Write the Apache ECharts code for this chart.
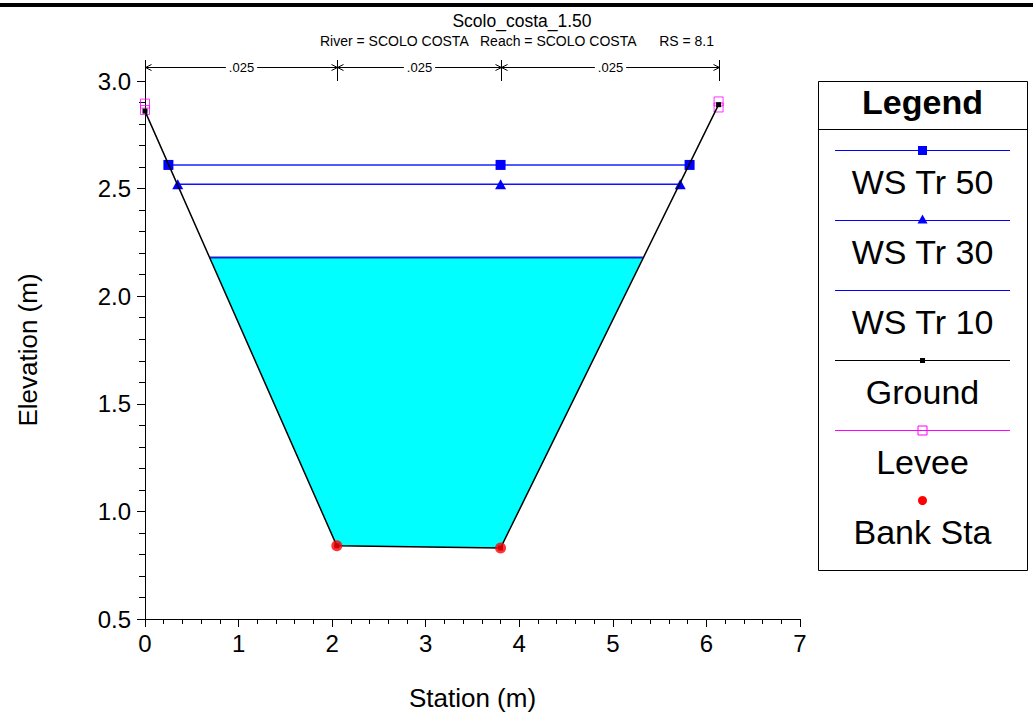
<!DOCTYPE html>
<html><head><meta charset="utf-8">
<script src="https://cdn.jsdelivr.net/npm/echarts@6/dist/echarts.min.js"></script>
<style>html,body{margin:0;padding:0;background:#fff}#c{width:1033px;height:717px}</style>
</head><body><div id="c"></div>
<script>
// ---- data ----
const groundSta = [0, 2.05, 3.80, 6.13];
const groundElev = [2.86, 0.84, 0.83, 2.89];
const bankSta = [2.05, 3.80];
const bankElev = [0.84, 0.83];
const leveeSta = [0, 0, 6.13, 6.13];
const leveeElev = [2.895, 2.865, 2.905, 2.877];
const ws50Sta = [0.25, 3.80, 5.82];
const ws50Elev = 2.61;
const ws30Sta = [0.35, 3.80, 5.72];
const ws30Elev = 2.52;
const ws10Sta = [0.69, 5.32];
const ws10Elev = 2.18;
const nBreaks = [0, 2.05, 3.80, 6.13];
const nValues = ['.025', '.025', '.025'];
const xTicks = [0, 1, 2, 3, 4, 5, 6, 7];
const yTicks = [0.5, 1.0, 1.5, 2.0, 2.5, 3.0];
const legendNames = ['WS Tr 50', 'WS Tr 30', 'WS Tr 10', 'Ground', 'Levee', 'Bank Sta'];
const titleText = 'Scolo_costa_1.50';
const subTexts = ['River = SCOLO COSTA', 'Reach = SCOLO COSTA', 'RS = 8.1'];

const FONT = "'Liberation Sans', Arial, sans-serif";
const chart = echarts.init(document.getElementById('c'), null, {renderer: 'svg'});

// water polygon: WS10 edges + inner ground points
const waterPoly = [[ws10Sta[0], ws10Elev], [groundSta[1], groundElev[1]], [groundSta[2], groundElev[2]], [ws10Sta[1], ws10Elev]];
const nSegs = nValues.map((v, i) => [nBreaks[i], nBreaks[i + 1], v]);

// legend graphics
const LX = 818, LY = 81, LW = 209, LH = 489, LCX = 922.5;
const legendSymbols = [
  {line: '#0000ff', sym: 'rect', fill: '#0000ff', size: 9},
  {line: '#0000ff', sym: 'tri', fill: '#0000ff', size: 10},
  {line: '#0000ff', sym: null},
  {line: '#000000', sym: 'rect', fill: '#000000', size: 5},
  {line: '#ff00ff', sym: 'rect', fill: 'none', stroke: '#ff00ff', size: 9},
  {line: null, sym: 'circle', fill: '#ff0000', size: 9}
];
const graphics = [
  {type: 'rect', shape: {x: 0, y: 3, width: 1033, height: 4}, style: {fill: '#000'}},
  {type: 'text', x: 522, y: 21, style: {text: titleText, font: '17.5px ' + FONT, fill: '#000', align: 'center', verticalAlign: 'middle'}},
  {type: 'text', x: 320, y: 41, style: {text: subTexts[0], font: '14px ' + FONT, fill: '#000', align: 'left', verticalAlign: 'middle'}},
  {type: 'text', x: 480, y: 41, style: {text: subTexts[1], font: '14px ' + FONT, fill: '#000', align: 'left', verticalAlign: 'middle'}},
  {type: 'text', x: 714, y: 41, style: {text: subTexts[2], font: '14px ' + FONT, fill: '#000', align: 'right', verticalAlign: 'middle'}},
  {type: 'rect', shape: {x: LX + 0.5, y: LY + 0.5, width: LW, height: LH}, style: {fill: '#fff', stroke: '#000', lineWidth: 1}},
  {type: 'line', shape: {x1: LX, y1: 129.5, x2: LX + LW, y2: 129.5}, style: {stroke: '#000', lineWidth: 1}},
  {type: 'text', x: LCX, y: 102, style: {text: 'Legend', font: 'bold 34px ' + FONT, fill: '#000', align: 'center', verticalAlign: 'middle'}}
];
legendNames.forEach((name, i) => {
  const ly = 150.5 + 70 * i, ty = 182 + 70 * i;
  const s = legendSymbols[i];
  if (s.line) graphics.push({type: 'line', shape: {x1: 835, y1: ly, x2: 1010, y2: ly}, style: {stroke: s.line, lineWidth: 1}});
  if (s.sym === 'rect') graphics.push({type: 'rect', shape: {x: LCX - s.size / 2, y: ly - s.size / 2, width: s.size, height: s.size}, style: {fill: s.fill, stroke: s.stroke || null, lineWidth: 1}});
  if (s.sym === 'tri') graphics.push({type: 'polygon', shape: {points: [[LCX, ly - 6], [LCX - 5, ly + 3], [LCX + 5, ly + 3]]}, style: {fill: s.fill}});
  if (s.sym === 'circle') graphics.push({type: 'circle', shape: {cx: LCX, cy: ly, r: s.size / 2}, style: {fill: s.fill}});
  graphics.push({type: 'text', x: LCX, y: ty, style: {text: name, font: '34px ' + FONT, fill: '#000', align: 'center', verticalAlign: 'middle'}});
});

const option = {
  animation: false,
  backgroundColor: '#fff',
  grid: {left: 145, right: 233, top: 81, bottom: 98, containLabel: false},
  xAxis: {
    type: 'value', min: xTicks[0], max: xTicks[xTicks.length - 1], interval: 1,
    name: 'Station (m)', nameLocation: 'middle', nameGap: 66,
    nameTextStyle: {fontSize: 26, fontFamily: FONT, color: '#000'},
    axisLine: {show: true, lineStyle: {color: '#000', width: 1}},
    axisTick: {show: true, length: 8, lineStyle: {color: '#000'}},
    minorTick: {show: true, splitNumber: 5, length: 5, lineStyle: {color: '#000'}},
    splitLine: {show: false}, minorSplitLine: {show: false},
    axisLabel: {fontSize: 24, fontFamily: FONT, color: '#000', margin: 12}
  },
  yAxis: {
    type: 'value', min: yTicks[0], max: yTicks[yTicks.length - 1], interval: 0.5,
    name: 'Elevation (m)', nameLocation: 'middle', nameGap: 104,
    nameTextStyle: {fontSize: 26, fontFamily: FONT, color: '#000'},
    axisLine: {show: true, lineStyle: {color: '#000', width: 1}},
    axisTick: {show: true, length: 8, lineStyle: {color: '#000'}},
    minorTick: {show: true, splitNumber: 5, length: 6, lineStyle: {color: '#000'}},
    splitLine: {show: false}, minorSplitLine: {show: false},
    axisLabel: {fontSize: 24, fontFamily: FONT, color: '#000', margin: 14, formatter: v => v.toFixed(1)}
  },
  graphic: graphics,
  series: [
    {
      type: 'custom', name: 'water', silent: true, z: 1, clip: false,
      data: [waterPoly[0]],
      renderItem: (params, api) => ({
        type: 'polygon',
        shape: {points: waterPoly.map(p => api.coord(p))},
        style: {fill: '#00ffff', stroke: null}
      })
    },
    {
      type: 'custom', name: 'nvalues', silent: true, z: 3, clip: false,
      data: nSegs,
      encode: {x: [0, 1]},
      renderItem: (params, api) => {
        const a = api.value(0), b = api.value(1), lab = nSegs[params.dataIndex][2];
        const p1 = api.coord([a, yTicks[yTicks.length - 1]]);
        const p2 = api.coord([b, yTicks[yTicks.length - 1]]);
        const top = p1[1];
        const ay = top - 13.5, vy = top - 21;
        const x1 = Math.round(p1[0]) + 0.5, x2 = Math.round(p2[0]) + 0.5;
        const ls = {stroke: '#000', lineWidth: 1, fill: null};
        return {
          type: 'group',
          children: [
            {type: 'line', shape: {x1: x1, y1: vy, x2: x1, y2: top}, style: ls},
            {type: 'line', shape: {x1: x2, y1: vy, x2: x2, y2: top}, style: ls},
            {type: 'line', shape: {x1: x1, y1: ay, x2: x2, y2: ay}, style: ls},
            {type: 'polyline', shape: {points: [[x1 + 6, ay - 3], [x1, ay], [x1 + 6, ay + 3]]}, style: ls},
            {type: 'polyline', shape: {points: [[x2 - 6, ay - 3], [x2, ay], [x2 - 6, ay + 3]]}, style: ls},
            {type: 'text', x: (x1 + x2) / 2, y: ay, style: {text: lab, font: '13px ' + FONT, fill: '#000', align: 'center', verticalAlign: 'middle', backgroundColor: '#fff', padding: [1, 3]}}
          ]
        };
      }
    },
    {
      type: 'line', name: 'WS Tr 10', z: 4,
      data: ws10Sta.map(s => [s, ws10Elev]),
      symbol: 'none', lineStyle: {color: '#1f1fd0', width: 2}
    },
    {
      type: 'line', name: 'WS Tr 30', z: 4,
      data: ws30Sta.map(s => [s, ws30Elev]),
      symbol: 'triangle', symbolSize: [11, 10], itemStyle: {color: '#0000ff'},
      lineStyle: {color: '#1010ff', width: 1.6}
    },
    {
      type: 'line', name: 'WS Tr 50', z: 4,
      data: ws50Sta.map(s => [s, ws50Elev]),
      symbol: 'rect', symbolSize: 10, itemStyle: {color: '#0000ff'},
      lineStyle: {color: '#4d5bff', width: 2}
    },
    {
      type: 'scatter', name: 'Levee', z: 5,
      data: leveeSta.map((s, i) => [s, leveeElev[i]]),
      symbol: 'rect', symbolSize: 9,
      itemStyle: {color: 'rgba(0,0,0,0)', borderColor: '#ff00ff', borderWidth: 1}
    },
    {
      type: 'line', name: 'Ground', z: 6,
      data: groundSta.map((s, i) => [s, groundElev[i]]),
      symbol: 'rect', symbolSize: 5, itemStyle: {color: '#000'},
      lineStyle: {color: '#000', width: 1.5}
    },
    {
      type: 'scatter', name: 'Bank Sta', z: 7,
      data: bankSta.map((s, i) => [s, bankElev[i]]),
      symbol: 'circle', symbolSize: 11, itemStyle: {color: '#ff0000'}
    }
  ]
};
chart.setOption(option);
</script>
</body></html>
